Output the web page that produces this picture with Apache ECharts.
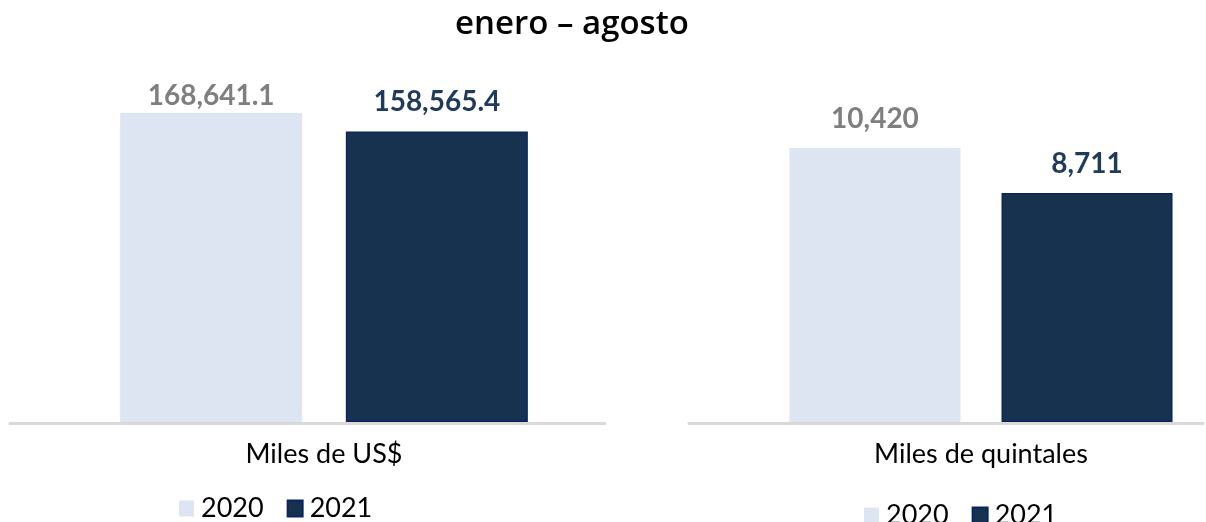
<!DOCTYPE html>
<html>
<head>
<meta charset="utf-8">
<script src="https://cdn.jsdelivr.net/npm/echarts@6/dist/echarts.min.js"></script>
<style>
html, body { margin: 0; padding: 0; background: #fff; }
#main { width: 1206px; height: 522px; }
</style>
</head>
<body>
<div id="main"></div>
<script>
var titulo = 'enero – agosto';
var years = ['2020', '2021'];
var unidades = ['Miles de US$', 'Miles de quintales'];
var valor2020 = [168641.1, 10420];
var valor2021 = [158565.4, 8711];
var decimales = [1, 0];
var ejeMax = [200000, 14000];

var claro = '#dce5f1';
var oscuro = '#17324f';

var myChart = echarts.init(document.getElementById('main'));

function fmt(d) {
    return function (p) {
        return p.value.toLocaleString('en-US', { minimumFractionDigits: d, maximumFractionDigits: d });
    };
}

function etiqueta(color, dist, d) {
    return {
        show: true,
        position: 'top',
        distance: dist,
        color: color,
        fontFamily: 'Lato',
        fontWeight: 'bold',
        fontSize: 28,
        formatter: fmt(d)
    };
}

function ejeCat(grid, data, showName) {
    return {
        type: 'category',
        gridIndex: grid,
        data: data,
        axisLine: showName ? { show: false } : { show: true, lineStyle: { color: '#d9d9d9', width: 3 } },
        axisTick: { show: false },
        axisLabel: {
            show: showName,
            margin: 19,
            color: '#000',
            fontFamily: 'Lato',
            fontSize: 27
        }
    };
}

function ejeVal(grid, max) {
    return { type: 'value', gridIndex: grid, min: 0, max: max, show: false };
}

function leyenda(left, top) {
    return {
        data: years,
        left: left,
        top: top,
        itemWidth: 15,
        itemHeight: 16,
        itemGap: 23,
        icon: 'rect',
        textStyle: { fontFamily: 'Lato', fontSize: 27, color: '#000', padding: [0, 0, 0, 2] }
    };
}

option = {
    animation: false,
    title: {
        text: titulo,
        left: 450,
        top: 3,
        textStyle: {
            fontFamily: 'Open Sans',
            fontWeight: 600,
            fontSize: 33,
            color: '#000'
        }
    },
    legend: [leyenda(174, 490), leyenda(859, 497)],
    grid: [
        { left: 10, right: 568, top: 55.5, bottom: 100, outerBoundsMode: 'none' },
        { left: 10, right: 601, top: 55.5, bottom: 99, outerBoundsMode: 'none' },
        { left: 759, right: 3, top: 53.9, bottom: 100, outerBoundsMode: 'none' },
        { left: 689, right: 3, top: 53.9, bottom: 99, outerBoundsMode: 'none' }
    ],
    xAxis: [
        ejeCat(0, [unidades[0]], true),
        ejeCat(1, [''], false),
        ejeCat(2, [unidades[1]], true),
        ejeCat(3, [''], false)
    ],
    yAxis: [
        ejeVal(0, ejeMax[0]),
        ejeVal(1, ejeMax[0]),
        ejeVal(2, ejeMax[1]),
        ejeVal(3, ejeMax[1])
    ],
    series: [{
        name: years[0],
        type: 'bar',
        xAxisIndex: 0,
        yAxisIndex: 0,
        barWidth: 182,
        barGap: '24%',
        data: [valor2020[0]],
        itemStyle: { color: claro },
        label: etiqueta('#7f7f7f', 3, decimales[0])
    }, {
        name: years[1],
        type: 'bar',
        xAxisIndex: 0,
        yAxisIndex: 0,
        barWidth: 182,
        barGap: '24%',
        data: [valor2021[0]],
        itemStyle: { color: oscuro, borderColor: '#0a2462', borderWidth: 1.5 },
        label: etiqueta('#1f3a5a', 15, decimales[0])
    }, {
        name: years[0],
        type: 'bar',
        xAxisIndex: 2,
        yAxisIndex: 2,
        barWidth: 171,
        barGap: '24%',
        data: [valor2020[1]],
        itemStyle: { color: claro },
        label: etiqueta('#7f7f7f', 15, decimales[1])
    }, {
        name: years[1],
        type: 'bar',
        xAxisIndex: 2,
        yAxisIndex: 2,
        barWidth: 171,
        barGap: '24%',
        data: [valor2021[1]],
        itemStyle: { color: oscuro, borderColor: '#0a2462', borderWidth: 1.5 },
        label: etiqueta('#1f3a5a', 15, decimales[1])
    }]
};

myChart.setOption(option);
</script>
</body>
</html>
